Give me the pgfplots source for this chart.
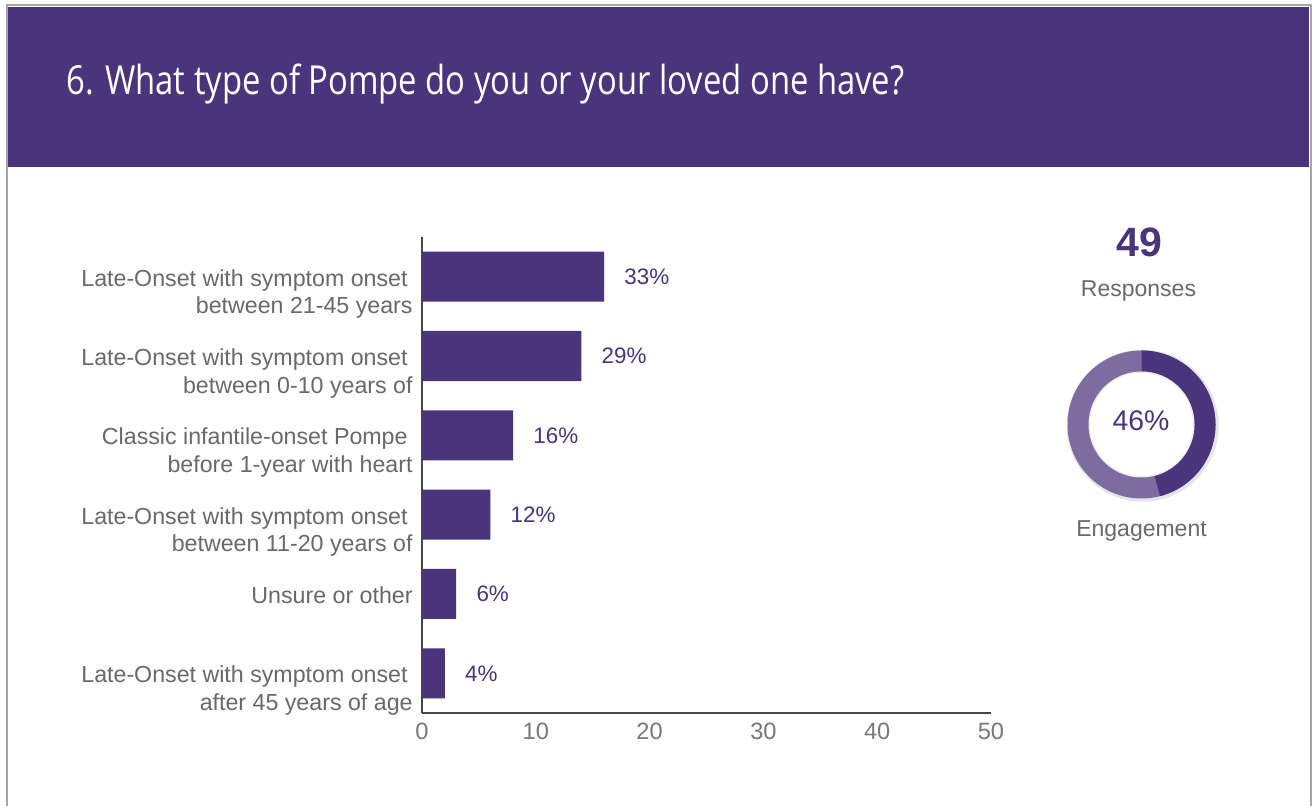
\documentclass[border=0pt]{standalone}
\usepackage{pgfplots}
\pgfplotsset{compat=1.18}
\usepackage{fontspec}
\setmainfont{Liberation Sans}
\newfontfamily\titlefont[FakeStretch=0.82]{Open Sans}
\definecolor{pp}{RGB}{74,52,123}
\definecolor{pplight}{RGB}{126,108,160}
\definecolor{lblgray}{RGB}{105,105,105}
\definecolor{tickgray}{RGB}{120,120,120}
\definecolor{framegray}{RGB}{165,165,170}
\definecolor{axgray}{RGB}{70,70,70}

\begin{document}
\begin{tikzpicture}
\useasboundingbox (0,0) rectangle (656pt,403pt);
\fill[white] (0,0) rectangle (656pt,403pt);
\begin{scope}[x=0.5pt,y=-0.5pt,shift={(0,403pt)}]
  \draw[framegray, line width=1pt] (6.5,806) -- (6.5,5.5) -- (1310.5,5.5) -- (1310.5,806);
  \fill[pp] (8,7) rectangle (1309,167);
  \node[anchor=base west, text=white, inner sep=0pt, font=\titlefont\fontsize{20}{24}\selectfont] at (66,95) {6. What type of Pompe do you or your loved one have?};
  \node[anchor=base, text=pp, inner sep=0pt, font=\bfseries\fontsize{20.5}{24}\selectfont] at (1139,257) {49};
  \node[anchor=base, text=lblgray, inner sep=0pt, font=\fontsize{11.5}{14}\selectfont] at (1138.5,297) {Responses};
  \node[anchor=base, text=lblgray, inner sep=0pt, font=\fontsize{11.5}{14}\selectfont] at (1141.5,537) {Engagement};
\end{scope}

% donut
\coordinate (c) at (570.75pt,190.75pt);
\fill[black!10] ([shift={(0.6pt,-0.6pt)}]c) circle (38pt);
\fill[pplight] (c) circle (37pt);
\fill[pp] ([shift={(90:37pt)}]c) arc[start angle=90, end angle={90-3.6*46}, radius=37pt]
   -- ([shift={({90-3.6*46}:26.5pt)}]c) arc[start angle={90-3.6*46}, end angle=90, radius=26.5pt] -- cycle;
\fill[black!8] (c) circle (26.5pt);
\fill[white] (c) circle (25.8pt);
\node[anchor=base, text=pp, inner sep=0pt, font=\fontsize{14.2}{16}\selectfont] at (570.5pt,187.5pt) {46\%};

\begin{axis}[
  at={(211pt,46.5pt)}, anchor=south west,
  scale only axis, width=284.5pt, height=238pt,
  xmin=0, xmax=50, ymin=-0.5, ymax=5.5,
  xbar, bar width=25pt,
  axis lines*=left,
  axis line style={-, draw=axgray, line width=0.9pt},
  xtick={0,10,...,50}, ytick={0,...,5},
  /pgf/number format/assume math mode=true,
  yticklabels={
    {Late-Onset with symptom onset\hspace*{2.5pt}\\after 45 years of age},
    {Unsure or other},
    {Late-Onset with symptom onset\hspace*{2.5pt}\\between 11-20 years of},
    {Classic infantile-onset Pompe\hspace*{2.5pt}\\before 1-year with heart},
    {Late-Onset with symptom onset\hspace*{2.5pt}\\between 0-10 years of},
    {Late-Onset with symptom onset\hspace*{2.5pt}\\between 21-45 years}},
  major tick length=0pt,
  xticklabel style={font=\fontsize{11.8}{14}\selectfont, text=tickgray, inner sep=0pt, yshift=-5pt},
  yticklabel style={font=\fontsize{11.6}{13.8}\selectfont, text=lblgray, align=right, inner sep=0pt, anchor=north east, xshift=-4.5pt, yshift=3.8pt},
  point meta=explicit,
  nodes near coords={\pgfmathprintnumber{\pgfplotspointmeta}\%},
  nodes near coords style={font=\fontsize{11.2}{13}\selectfont, text=pp, anchor=west, inner sep=0pt, xshift=10pt},
]
\addplot[fill=pp, draw=none] table[x=v, y=y, meta=p] {
y v p
0 2 4
1 3 6
2 6 12
3 8 16
4 14 29
5 16 33
};
\end{axis}
\end{tikzpicture}
\end{document}
